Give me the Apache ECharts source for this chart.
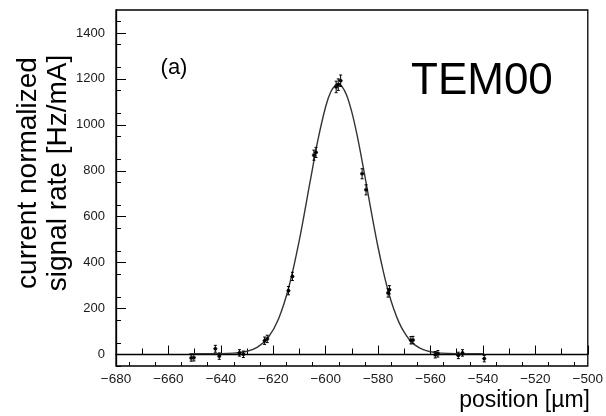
<!DOCTYPE html>
<html>
<head>
<meta charset="utf-8">
<script src="https://cdn.jsdelivr.net/npm/echarts@6/dist/echarts.min.js"></script>
<style>
html,body{margin:0;padding:0;background:#fff;}
#chart{width:606px;height:416px;}
</style>
</head>
<body>
<div id="chart"></div>
<script>
// ---- data ----
const xTickLabels = [-680, -660, -640, -620, -600, -580, -560, -540, -520, -500];
const yTickLabels = [0, 200, 400, 600, 800, 1000, 1200, 1400];

const pointX = [-651.3, -650.3, -642.1, -640.6, -632.9, -631.4, -623.3, -622.3, -614.2, -612.7,
                -604.5, -603.7, -596.0, -595.2, -594.3, -586.1, -584.6, -576.2, -575.7,
                -567.5, -566.7, -558.2, -557.2, -549.4, -547.8, -539.5];
const pointY = [-15, -14, 25, -7, 7, 1, 60, 68, 278, 340,
                868, 880, 1165, 1175, 1192, 787, 717, 268, 282,
                62, 63, -1, 3, -4, 7, -18];
const pointErrY = [14, 14, 15, 14, 14, 14, 16, 16, 18, 18,
                   22, 22, 25, 25, 25, 22, 22, 18, 18,
                   16, 16, 14, 14, 14, 14, 14];
const pointErrX = [0.6, 0.6, 0.6, 0.6, 0.6, 0.6, 0.6, 0.6, 0.6, 0.6,
                   0.6, 0.6, 0.6, 0.6, 0.6, 0.6, 0.6, 0.6, 0.6,
                   0.6, 0.6, 0.6, 0.6, 0.6, 0.6, 0.6];

const fitX = [-652, -645, -640, -635, -630, -626, -622, -618, -614, -610, -606, -603, -600, -598,
              -596, -595.3, -594, -592, -590, -588, -586, -584, -582, -580, -578, -576, -574, -572,
              -570, -568, -566, -563, -560, -556, -550, -540];
const fitY = [4, 4, 4, 6, 14, 32, 73, 155, 296, 501, 749, 932, 1080, 1145,
              1177, 1179, 1171, 1129, 1054, 954, 836, 710, 584, 466, 361, 270, 197, 139,
              96, 64, 42, 22, 12, 6, 4, 4];

const xMinorTicks = [];
for (let v = -675; v < -500; v += 10) xMinorTicks.push(v);
const xMidTicks = [];
for (let v = -670; v < -500; v += 20) xMidTicks.push(v);
const yMinorTicks = [];
for (let v = 50; v < 1500; v += 100) yMinorTicks.push(v);
yMinorTicks.push(-50);

const FONT = '"Liberation Sans", Arial, Helvetica, sans-serif';

const chart = echarts.init(document.getElementById('chart'), null, {renderer: 'canvas'});

function fmtMinus(v) { return String(v).replace('-', '\u2212'); }
function fmtPlain(v) { return String(v); }

const baseX = {
  type: 'value', min: -680, max: -500, position: 'bottom',
  splitLine: {show: false}
};
const baseY = {
  type: 'value', min: -50, max: 1500, position: 'left',
  splitLine: {show: false}
};

const option = {
  animation: false,
  backgroundColor: '#fff',
  grid: {left: 116, top: 10, right: 16, bottom: 50, show: true, borderColor: '#000', borderWidth: 1.3, backgroundColor: 'transparent'},
  xAxis: [
    Object.assign({}, baseX, {
      interval: 20,
      axisLine: {show: true, lineStyle: {color: '#000', width: 1.3}},
      axisTick: {show: true, inside: true, length: 9, lineStyle: {color: '#000', width: 1}},
      axisLabel: {show: true, margin: 6, fontSize: 13.5, color: '#1a1a1a', fontFamily: FONT, formatter: fmtMinus, customValues: xTickLabels},
      minorTick: {show: false}
    }),
    Object.assign({}, baseX, {
      axisLine: {show: false},
      axisTick: {show: true, inside: true, length: 6, customValues: xMidTicks, lineStyle: {color: '#000', width: 1}},
      axisLabel: {show: false}
    }),
    Object.assign({}, baseX, {
      axisLine: {show: false},
      axisTick: {show: true, inside: true, length: 4, customValues: xMinorTicks, lineStyle: {color: '#000', width: 1}},
      axisLabel: {show: false}
    })
  ],
  yAxis: [
    Object.assign({}, baseY, {
      axisLine: {show: true, lineStyle: {color: '#000', width: 1.3}},
      axisTick: {show: true, inside: true, length: 10, customValues: yTickLabels, lineStyle: {color: '#000', width: 1}},
      axisLabel: {show: true, margin: 11, fontSize: 13, color: '#1a1a1a', fontFamily: FONT, formatter: fmtPlain, customValues: yTickLabels}
    }),
    Object.assign({}, baseY, {
      axisLine: {show: false},
      axisTick: {show: true, inside: true, length: 5, customValues: yMinorTicks, lineStyle: {color: '#000', width: 1}},
      axisLabel: {show: false}
    })
  ],
  series: [
    {
      type: 'line',
      xAxisIndex: 0, yAxisIndex: 0,
      data: fitX.map((x, i) => [x, fitY[i]]),
      smooth: 0.3,
      showSymbol: false,
      lineStyle: {color: '#333', width: 1.4},
      z: 2
    },
    {
      type: 'custom',
      xAxisIndex: 0, yAxisIndex: 0,
      data: pointX.map((x, i) => [x, pointY[i], pointErrX[i], pointErrY[i]]),
      renderItem: function (params, api) {
        const x = api.value(0), y = api.value(1), ex = api.value(2), ey = api.value(3);
        const c = api.coord([x, y]);
        const top = api.coord([x, y + ey]);
        const bot = api.coord([x, y - ey]);
        const l = api.coord([x - ex, y]);
        const r = api.coord([x + ex, y]);
        const st = {stroke: '#000', lineWidth: 1};
        return {
          type: 'group',
          children: [
            {type: 'line', shape: {x1: c[0], y1: top[1], x2: c[0], y2: bot[1]}, style: st},
            {type: 'line', shape: {x1: l[0] - 0.5, y1: c[1], x2: r[0] + 0.5, y2: c[1]}, style: st},
            {type: 'line', shape: {x1: c[0] - 1.5, y1: top[1], x2: c[0] + 1.5, y2: top[1]}, style: st},
            {type: 'line', shape: {x1: c[0] - 1.5, y1: bot[1], x2: c[0] + 1.5, y2: bot[1]}, style: st},
            {type: 'rect', shape: {x: c[0] - 1.5, y: c[1] - 1.5, width: 3, height: 3}, style: {fill: '#000'}}
          ]
        };
      },
      z: 3
    }
  ],
  graphic: [
    {type: 'text', x: 174, y: 68, style: {text: '(a)', font: '22px ' + FONT, fill: '#000', align: 'center', verticalAlign: 'middle'}},
    {type: 'text', x: 411, y: 82, style: {text: 'TEM00', font: '44px ' + FONT, fill: '#000', verticalAlign: 'middle', align: 'left'}},
    {type: 'text', x: 590, y: 401, style: {text: 'position [\u00b5m]', font: '23px ' + FONT, fill: '#000', align: 'right', verticalAlign: 'middle'}},
    {type: 'text', x: 43, y: 173, rotation: Math.PI / 2,
      style: {text: 'current normalized\nsignal rate [Hz/mA]', font: '28px ' + FONT, lineHeight: 30, fill: '#000', align: 'center', verticalAlign: 'middle'}}
  ]
};
chart.setOption(option);
</script>
</body>
</html>
